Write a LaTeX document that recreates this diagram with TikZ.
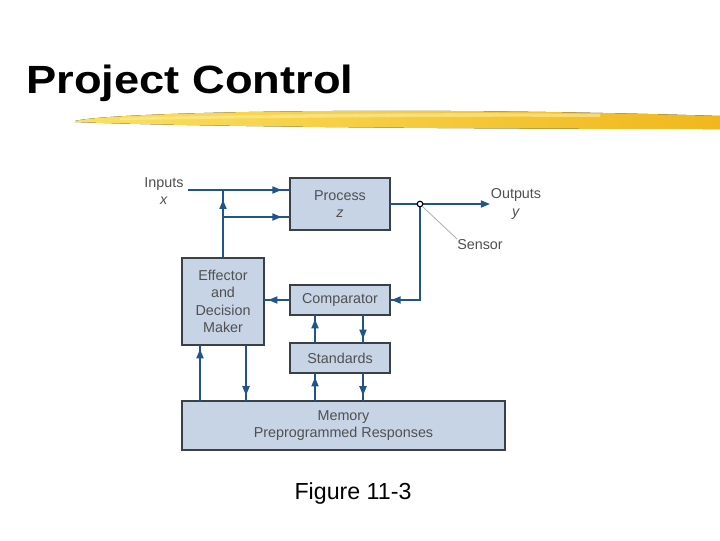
\documentclass[tikz,border=0pt]{standalone}
\usepackage{fontspec}
\setmainfont{Liberation Sans}
\usetikzlibrary{positioning, arrows.meta, decorations.markings}
\definecolor{boxfill}{RGB}{198,212,229}
\definecolor{boxline}{RGB}{58,64,72}
\definecolor{flowblue}{RGB}{32,84,138}
\definecolor{labelgray}{RGB}{80,80,80}
\definecolor{brushlight}{RGB}{250,224,96}
\definecolor{brushdark}{RGB}{240,184,30}

\begin{document}
\begin{tikzpicture}[
    x=0.025cm, y=-0.025cm,
    block/.style={rectangle, draw=boxline, line width=1.1pt, fill=boxfill, text=labelgray, font=\fontsize{10.2}{12.3}\selectfont, align=center, inner sep=0pt, outer sep=0pt},
    lbl/.style={text=labelgray, font=\fontsize{10.2}{12.3}\selectfont, align=center, inner sep=0pt},
    flow/.style={draw=flowblue, line width=1.2pt},
    tipblue/.style={-{Triangle[length=6.5pt,width=5pt]}},
    midarrow/.style={flow, postaction={decorate}, decoration={markings, mark=at position #1 with {\arrow[flowblue]{Triangle[length=6.5pt,width=5pt]}}}},
    midarrow/.default=-6pt
]
\fill[white] (0,0) rectangle (720,540);
\useasboundingbox (0,0) rectangle (720,540);

% title and brush stroke
\node[anchor=base west, inner sep=0pt, font=\fontsize{28}{30}\selectfont\bfseries] (title) at (26,93) {\scalebox{1.15}[1]{Project Control}};
\fill[left color=brushlight, right color=brushdark] (75,121) .. controls (110,112) and (400,106) .. (720,116) -- (720,129) .. controls (500,129) and (200,127) .. (75,122) -- cycle;
\fill[brushlight!60, opacity=0.6] (120,118) .. controls (250,114) and (450,112) .. (600,114) -- (600,117) .. controls (450,116) and (250,118) .. (120,120) -- cycle;

% blocks
\node[block, minimum width=2.5cm, minimum height=1.3cm] (process) at (340,204) {Process\\\textit{z}};
\node[block, minimum width=2.5cm, minimum height=0.75cm] (comparator) at (340,300) {Comparator};
\node[block, minimum width=2.5cm, minimum height=0.75cm, below=0.7cm of comparator] (standards) {Standards};
\node[block, minimum width=2.05cm, minimum height=2.175cm] (effector) at (223,301.5) {Effector\\and\\Decision\\Maker};
\node[block, minimum width=8.075cm, minimum height=1.225cm] (memory) at (343.5,425.5) {Memory\\Preprogrammed Responses};

% labels
\node[lbl] (inputs) at (164,191) {Inputs\\\textit{x}};
\node[lbl] (outputs) at (516,204) {Outputs\\\textit{y}};
\node[lbl, anchor=north west] (sensorlbl) at (457,239) {Sensor};

\coordinate (inp) at (188,190);
\coordinate (fb) at (223,217);
\coordinate (sens) at (420,204);
\coordinate (outp) at (490,204);
\coordinate (colA) at (200,0);
\coordinate (colB) at (246,0);
\coordinate (colC) at (315,0);
\coordinate (colD) at (363,0);

% connectors
\draw[midarrow] (inp) -- (inp -| process.west);
\draw[midarrow] (fb) -- (fb -| process.west);
\draw[midarrow=-7pt] (effector.north) -- (effector.north |- inp);
\draw[flow, tipblue] (process.east) -- (outp);
\draw[midarrow=-1pt] (sens) -- (sens |- comparator.east) -- (comparator.east);
\draw[midarrow=-3pt] (comparator.west) -- (comparator.west -| effector.east);
\draw[midarrow=-3pt] (memory.north -| colA) -- (effector.south -| colA);
\draw[midarrow=-4pt] (effector.south -| colB) -- (memory.north -| colB);
\draw[midarrow=-3pt] (standards.north -| colC) -- (comparator.south -| colC);
\draw[midarrow=-3pt] (comparator.south -| colD) -- (standards.north -| colD);
\draw[midarrow=-3pt] (memory.north -| colC) -- (standards.south -| colC);
\draw[midarrow=-4pt] (standards.south -| colD) -- (memory.north -| colD);

\node[circle, draw=black, fill=white, inner sep=0pt, minimum size=4pt, line width=0.8pt] (sensdot) at (sens) {};
\draw[gray!70, line width=0.5pt] (sensdot.south east) -- (sensorlbl.north west);

% caption
\node[anchor=base, inner sep=0pt, font=\fontsize{16.5}{18}\selectfont] (caption) at (353,499) {Figure 11-3};
\end{tikzpicture}
\end{document}
